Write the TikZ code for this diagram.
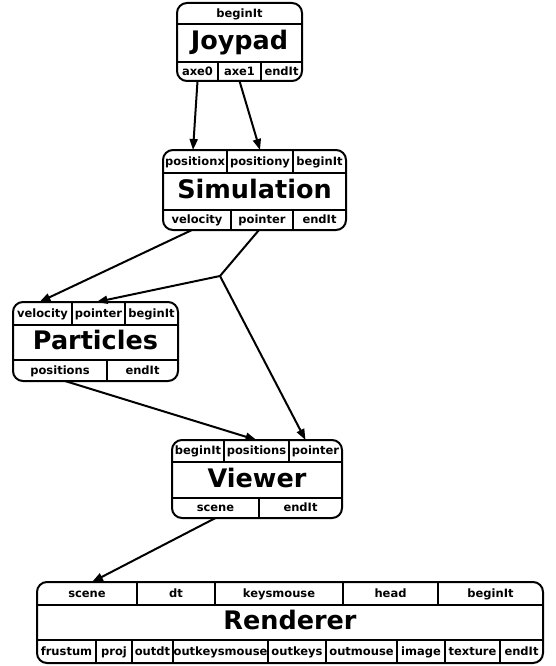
\documentclass[tikz,border=0pt]{standalone}
\usepackage{fontspec}
\setmainfont{DejaVu Sans}
\usetikzlibrary{arrows.meta, fit}

\begin{document}
\begin{tikzpicture}[
  x=1pt, y=-1pt, line width=2pt,
  box/.style={inner sep=0pt, outer sep=0pt},
  cell/.style={box, label={[inner sep=0pt, text height=8.5pt, text depth=1pt,
    font=\bfseries\fontsize{11.5}{12}\selectfont]center:#1}},
  title/.style={box, label={[inner sep=0pt, text height=19pt, text depth=5pt,
    font=\bfseries\fontsize{25.5}{26}\selectfont]center:#1}},
  rec/.style={draw, rounded corners=10pt},
  flow/.style={-{Triangle[length=11pt, width=8pt]}},
]
  \useasboundingbox (0,0) rectangle (555,666);

  % Joypad
  \node[cell=beginIt, fit={(177,3) (302,24)}] (jbegin) {};
  \node[title=Joypad, fit={(177,24) (302,62)}] (jname) {};
  \node[cell=axe0, fit={(177,62) (218,81)}] (jaxe0) {};
  \node[cell=axe1, fit={(218,62) (261,81)}] (jaxe1) {};
  \node[cell=endIt, fit={(261,62) (302,81)}] (jend) {};
  \draw[rec] (jbegin.north west) rectangle (jend.south east);
  \draw (jbegin.south west) -- (jbegin.south east);
  \draw (jname.south west) -- (jname.south east);
  \draw (jaxe0.north east) -- (jaxe0.south east);
  \draw (jaxe1.north east) -- (jaxe1.south east);

  % Simulation
  \node[cell=positionx, fit={(163,150) (227,173)}] (sposx) {};
  \node[cell=positiony, fit={(227,150) (293,173)}] (sposy) {};
  \node[cell=beginIt, fit={(293,150) (346,173)}] (sbegin) {};
  \node[title=Simulation, fit={(163,173) (346,210)}] (sname) {};
  \node[cell=velocity, fit={(163,210) (231,230)}] (svel) {};
  \node[cell=pointer, fit={(231,210) (293,230)}] (sptr) {};
  \node[cell=endIt, fit={(293,210) (346,230)}] (send) {};
  \draw[rec] (sposx.north west) rectangle (send.south east);
  \draw (sposx.south west) -- (sbegin.south east);
  \draw (sname.south west) -- (sname.south east);
  \draw (sposx.north east) -- (sposx.south east);
  \draw (sposy.north east) -- (sposy.south east);
  \draw (svel.north east) -- (svel.south east);
  \draw (sptr.north east) -- (sptr.south east);

  % Particles
  \node[cell=velocity, fit={(13,302) (72,325)}] (pvel) {};
  \node[cell=pointer, fit={(72,302) (125,325)}] (pptr) {};
  \node[cell=beginIt, fit={(125,302) (178,325)}] (pbegin) {};
  \node[title=Particles, fit={(13,325) (178,360)}] (pname) {};
  \node[cell=positions, fit={(13,360) (107,381)}] (ppos) {};
  \node[cell=endIt, fit={(107,360) (178,381)}] (pend) {};
  \draw[rec] (pvel.north west) rectangle (pend.south east);
  \draw (pvel.south west) -- (pbegin.south east);
  \draw (pname.south west) -- (pname.south east);
  \draw (pvel.north east) -- (pvel.south east);
  \draw (pptr.north east) -- (pptr.south east);
  \draw (ppos.north east) -- (ppos.south east);

  % Viewer
  \node[cell=beginIt, fit={(172,440) (224,462)}] (vbegin) {};
  \node[cell=positions, fit={(224,440) (289,462)}] (vpos) {};
  \node[cell=pointer, fit={(289,440) (342,462)}] (vptr) {};
  \node[title=Viewer, fit={(172,462) (342,498)}] (vname) {};
  \node[cell=scene, fit={(172,498) (259,518)}] (vscene) {};
  \node[cell=endIt, fit={(259,498) (342,518)}] (vend) {};
  \draw[rec] (vbegin.north west) rectangle (vend.south east);
  \draw (vbegin.south west) -- (vptr.south east);
  \draw (vname.south west) -- (vname.south east);
  \draw (vbegin.north east) -- (vbegin.south east);
  \draw (vpos.north east) -- (vpos.south east);
  \draw (vscene.north east) -- (vscene.south east);

  % Renderer
  \node[cell=scene, fit={(37,582) (137,605)}] (rscene) {};
  \node[cell=dt, fit={(137,582) (215,605)}] (rdt) {};
  \node[cell=keysmouse, fit={(215,582) (343,605)}] (rkeys) {};
  \node[cell=head, fit={(343,582) (438,605)}] (rhead) {};
  \node[cell=beginIt, fit={(438,582) (543,605)}] (rbegin) {};
  \node[title=Renderer, fit={(37,605) (543,640)}] (rname) {};
  \node[cell=frustum, fit={(37,640) (96,663)}] (rfrust) {};
  \node[cell=proj, fit={(96,640) (132,663)}] (rproj) {};
  \node[cell=outdt, fit={(132,640) (173,663)}] (routdt) {};
  \node[cell=outkeysmouse, fit={(173,640) (268,663)}] (routkm) {};
  \node[cell=outkeys, fit={(268,640) (326,663)}] (routk) {};
  \node[cell=outmouse, fit={(326,640) (397,663)}] (routm) {};
  \node[cell=image, fit={(397,640) (445,663)}] (rimage) {};
  \node[cell=texture, fit={(445,640) (500,663)}] (rtex) {};
  \node[cell=endIt, fit={(500,640) (543,663)}] (rend) {};
  \draw[rec] (rscene.north west) rectangle (rend.south east);
  \draw (rscene.south west) -- (rbegin.south east);
  \draw (rname.south west) -- (rname.south east);
  \foreach \c in {rscene, rdt, rkeys, rhead}
    \draw (\c.north east) -- (\c.south east);
  \foreach \c in {rfrust, rproj, routdt, routkm, routk, routm, rimage, rtex}
    \draw (\c.north east) -- (\c.south east);

  % 连线
  \coordinate (split) at (220,276);
  \draw[flow] (jaxe0.south) -- ([xshift=-2pt]sposx.north);
  \draw[flow] (jaxe1.south) -- (sposy.north);
  \draw[flow] ([xshift=-5pt]svel.south) -- ([xshift=-3pt]pvel.north);
  \draw ([xshift=-3pt]sptr.south) -- (split);
  \draw[flow] (split) -- ([xshift=-2pt]pptr.north);
  \draw[flow] (split) -- ([xshift=-10pt]vptr.north);
  \draw[flow] ([xshift=5pt]ppos.south) -- (vpos.north);
  \draw[flow] (vscene.south) -- ([xshift=5pt]rscene.north);
\end{tikzpicture}
\end{document}
